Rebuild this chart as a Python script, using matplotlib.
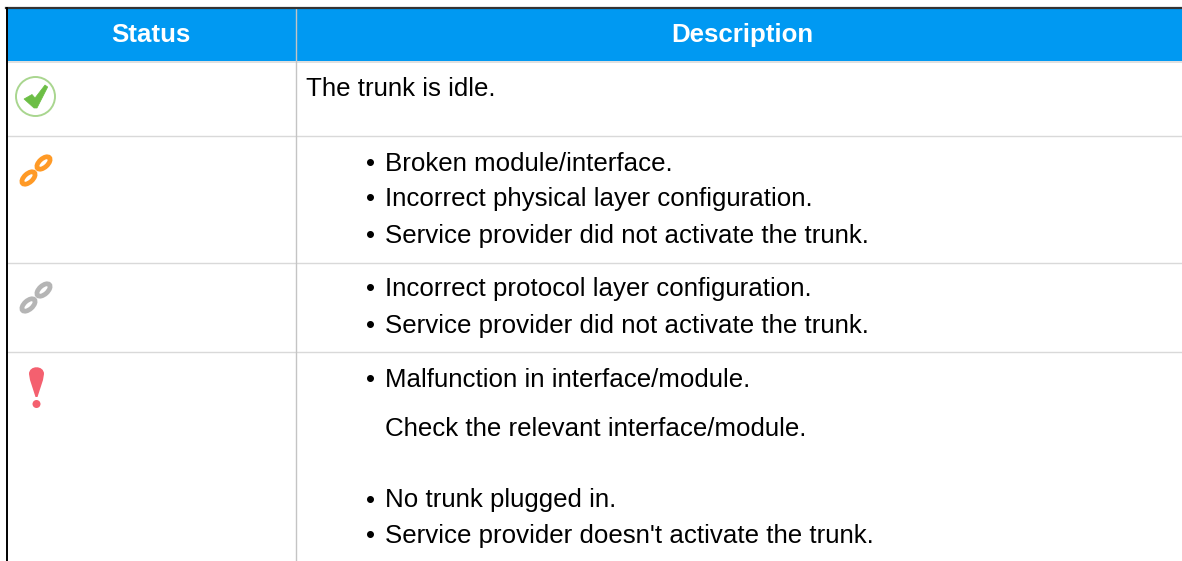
import matplotlib
matplotlib.use('Agg')
import matplotlib.pyplot as plt
from matplotlib.patches import Circle, Ellipse, Polygon, Rectangle, PathPatch
from matplotlib.path import Path

plt.rcParams['font.family'] = ['Liberation Sans', 'DejaVu Sans']

# table content
headers = ['Status', 'Description']
idle_text = 'The trunk is idle.'
bullet_lines = [
    (162, 'Broken module/interface.'),
    (197, 'Incorrect physical layer configuration.'),
    (234, 'Service provider did not activate the trunk.'),
    (287, 'Incorrect protocol layer configuration.'),
    (324, 'Service provider did not activate the trunk.'),
    (378, 'Malfunction in interface/module.'),
    (499, 'No trunk plugged in.'),
    (534, "Service provider doesn't activate the trunk."),
]
plain_lines = [(427, 'Check the relevant interface/module.')]
row_lines = [136, 263, 352]

W, H = 1182, 561
FS = 18.6
fig = plt.figure(figsize=(W / 100, H / 100), dpi=100)
ax = fig.add_axes([0, 0, 1, 1])
ax.set_xlim(0, W)
ax.set_ylim(H, 0)
ax.axis('off')

# header band and grid
ax.add_patch(Rectangle((7, 9), W - 7, 52, facecolor='#0099F2', edgecolor='none', zorder=1))
ax.plot([6, W], [8, 8], color='#333333', lw=1.6, zorder=3)
ax.plot([7, W], [61.5, 61.5], color='#DDDDDD', lw=1.3, zorder=2)
for y in row_lines:
    ax.plot([7, W], [y, y], color='#D9D9D9', lw=1.0, zorder=2)
ax.plot([296, 296], [8, H], color='#C4C4C4', lw=1.0, zorder=2)
ax.plot([6.5, 6.5], [8, H], color='#000000', lw=1.4, zorder=3)

ax.text(151, 34.5, headers[0], color='white', fontsize=FS, fontweight='bold', ha='center', va='center', zorder=4)
ax.text(742.5, 34.5, headers[1], color='white', fontsize=FS, fontweight='bold', ha='center', va='center', zorder=4)

# body text, shifted 1.5px down to sit on the reference baselines
ax.text(306, 88.5, idle_text, fontsize=FS, color='#000000', va='center', ha='left')
for y, s in bullet_lines:
    ax.text(366, y + 1.5, '•', fontsize=FS, color='#000000', va='center', ha='left')
    ax.text(385, y + 1.5, s, fontsize=FS, color='#000000', va='center', ha='left')
for y, s in plain_lines:
    ax.text(385, y + 1.5, s, fontsize=FS, color='#000000', va='center', ha='left')


def draw_check(cx, cy):
    ax.add_patch(Circle((cx, cy), 19.5, facecolor='white', edgecolor='#A9D68F', lw=1.4, zorder=4))
    pts = [(24, 99), (32, 94.5), (35, 98), (45, 85), (47.7, 87), (37, 108), (34, 108)]
    ax.add_patch(Polygon(pts, closed=True, facecolor='#6CBE45', edgecolor='#6CBE45', lw=0.5, zorder=5))


def draw_chain(cx, cy, color):
    for dx, dy in [(-7.5, 7.5), (7.5, -7.5)]:
        ax.add_patch(Ellipse((cx + dx, cy + dy), 16, 8.5, angle=-42, facecolor='white',
                             edgecolor=color, lw=3.4, zorder=4))


def draw_mark(cx, top, color):
    verts = [(cx - 7.5, top + 7), (cx - 7.5, top - 2), (cx + 7.5, top - 2), (cx + 7.5, top + 7),
             (cx + 6.5, top + 13), (cx + 1, top + 30), (cx - 1, top + 30),
             (cx - 6.5, top + 13), (cx - 7.5, top + 7)]
    codes = [Path.MOVETO, Path.CURVE4, Path.CURVE4, Path.CURVE4,
             Path.LINETO, Path.LINETO, Path.LINETO, Path.LINETO, Path.CLOSEPOLY]
    ax.add_patch(PathPatch(Path(verts, codes), facecolor=color, edgecolor='none', zorder=4))
    ax.add_patch(Circle((cx, top + 37), 4, facecolor=color, edgecolor='none', zorder=4))


draw_check(35.5, 96.5)
draw_chain(36, 170.5, '#FF9A26')
draw_chain(36, 297.5, '#B5B5B5')
draw_mark(36.5, 367, '#F4606F')

fig.savefig('out.png', dpi=100)
